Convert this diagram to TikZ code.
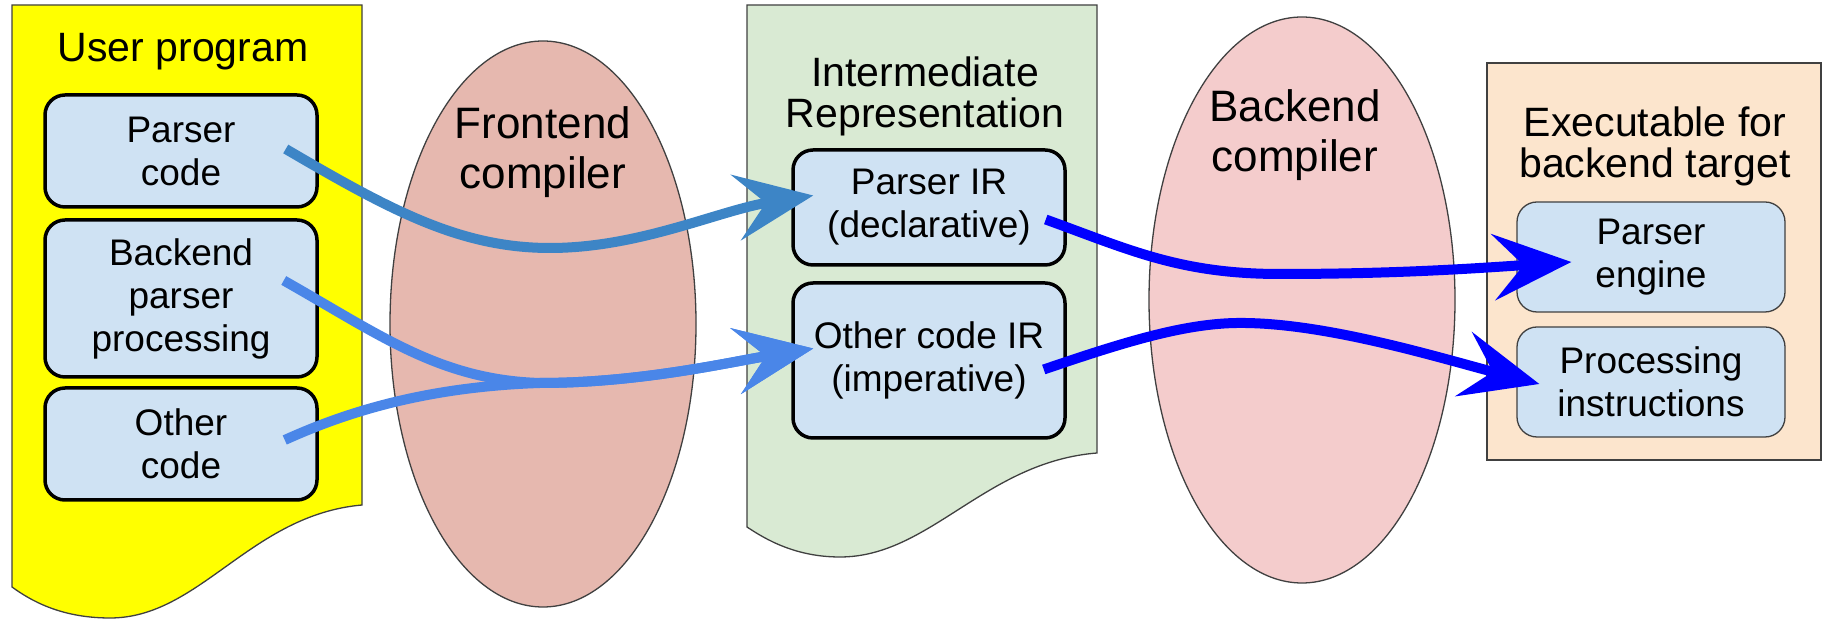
\documentclass[tikz,border=0pt]{standalone}
\usepackage{fontspec}
\setmainfont{Liberation Sans}
\usetikzlibrary{shapes.geometric,arrows.meta}

\definecolor{docyellow}{HTML}{FFFF00}
\definecolor{docgreen}{HTML}{D9EAD3}
\definecolor{docpeach}{HTML}{FCE5CD}
\definecolor{partblue}{HTML}{CFE2F3}
\definecolor{frontred}{HTML}{E6B8AF}
\definecolor{backpink}{HTML}{F4CCCC}
\definecolor{flowdark}{HTML}{3D85C6}
\definecolor{flowlight}{HTML}{4A86E8}
\definecolor{flowblue}{HTML}{0000FF}

\begin{document}
\begin{tikzpicture}[x=1pt,y=1pt,
    part/.style={draw=black,line width=3.5pt,rounded corners=20pt,fill=partblue,
        minimum width=272pt,align=center,font=\fontsize{37}{43}\selectfont},
    outpart/.style={part,draw=black!75,line width=1.3pt,minimum width=268pt},
    doc/.style={draw=black!75,line width=1.3pt},
    compiler/.style={ellipse,draw=black!75,line width=1.3pt,inner sep=0pt,
        minimum width=306pt,minimum height=566pt},
    title/.style={align=center,font=\fontsize{41}{41}\selectfont},
    bigtitle/.style={align=center,font=\fontsize{44}{50}\selectfont},
    flow/.style={line width=10pt,-{Stealth[length=78pt,width=66pt,inset=30pt]}}]

    \useasboundingbox (0,0) rectangle (1829,620);

    % User program
    \draw[doc,fill=docyellow] (12,615) -- (362,615) -- (362,115)
        .. controls (250,105) and (200,2) .. (110,2)
        .. controls (60,2) and (30,20) .. (12,33) -- cycle;
    \node[title,anchor=base] (usr) at (183,558) {User program};
    \node[part,minimum height=112pt] (pcode) at (181,469) {Parser\\code};
    \node[part,minimum height=157pt] (bproc) at (181,321.5) {Backend\\parser\\processing};
    \node[part,minimum height=112pt] (ocode) at (181,176) {Other\\code};

    % Intermediate representation
    \draw[doc,fill=docgreen] (747,615) -- (1097,615) -- (1097,167)
        .. controls (985,158) and (930,63) .. (840,63)
        .. controls (795,63) and (765,81) .. (747,93) -- cycle;
    \node[title] (irt) at (925,524) {Intermediate\\Representation};
    \node[part,minimum height=115pt] (pir) at (929,412.5) {Parser IR\\(declarative)};
    \node[part,minimum height=155pt] (oir) at (929,259.5) {Other code IR\\(imperative)};

    % Executable
    \draw[doc,fill=docpeach] (1487,557) rectangle (1821,160);
    \node[title] (exe) at (1655,474) {Executable for\\backend target};
    \node[outpart,minimum height=110pt] (peng) at (1651,363) {Parser\\engine};
    \node[outpart,minimum height=110pt] (pins) at (1651,238) {Processing\\instructions};

    % Compilers
    \node[compiler,fill=frontred] (fc) at (543,296) {};
    \node[bigtitle] (fct) at (543,468) {Frontend\\compiler};
    \node[compiler,fill=backpink] (bc) at (1302,320) {};
    \node[bigtitle] (bct) at (1295,485) {Backend\\compiler};

    % Frontend flows
    \draw[flow,flowdark] ([xshift=-33pt,yshift=2pt]pcode.east)
        .. controls (390,410) and (460,372) .. (550,372)
        .. controls (640,372) and (720,410) .. ([xshift=22pt,yshift=12pt]pir.west);
    \draw[flow,flowlight] ([xshift=-35pt,yshift=18pt]bproc.east)
        .. controls (380,285) and (440,240) .. (540,237)
        .. controls (640,237) and (730,258) .. ([xshift=22pt,yshift=12pt]oir.west);
    \draw[flow,flowlight] ([xshift=-34pt,yshift=4pt]ocode.east)
        .. controls (340,205) and (420,233) .. (540,237)
        .. controls (640,237) and (730,258) .. ([xshift=22pt,yshift=12pt]oir.west);

    % Backend flows
    \draw[flow,flowblue] ([xshift=-21pt,yshift=-12pt]pir.east)
        .. controls (1130,370) and (1180,346) .. (1280,346)
        .. controls (1400,346) and (1480,352) .. ([xshift=55pt,yshift=-5pt]peng.west);
    \draw[flow,flowblue] ([xshift=-23pt,yshift=-9pt]oir.east)
        .. controls (1130,280) and (1190,298) .. (1245,297)
        .. controls (1330,296) and (1440,262) .. ([xshift=23pt,yshift=-2pt]pins.west);
\end{tikzpicture}
\end{document}
